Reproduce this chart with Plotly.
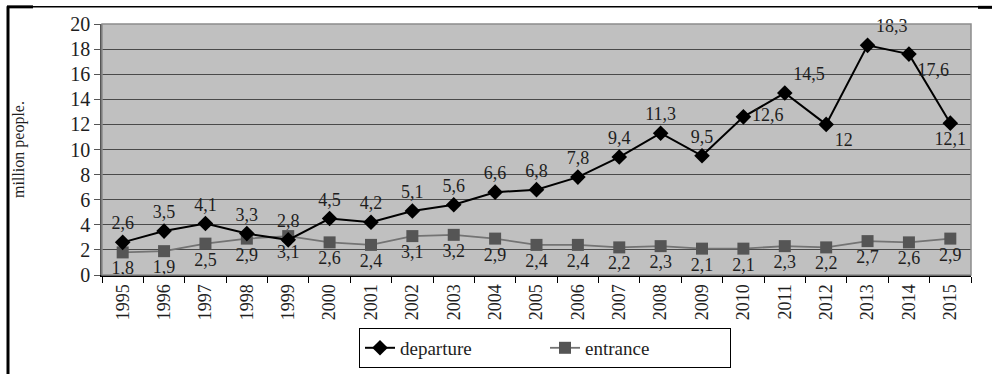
import plotly.graph_objects as go

# Outbound / inbound travellers, million people
years = [str(y) for y in range(1995, 2016)]
departure = [2.6, 3.5, 4.1, 3.3, 2.8, 4.5, 4.2, 5.1, 5.6, 6.6, 6.8, 7.8, 9.4, 11.3, 9.5,
             12.6, 14.5, 12.0, 18.3, 17.6, 12.1]
entrance = [1.8, 1.9, 2.5, 2.9, 3.1, 2.6, 2.4, 3.1, 3.2, 2.9, 2.4, 2.4, 2.2, 2.3, 2.1,
            2.1, 2.3, 2.2, 2.7, 2.6, 2.9]
y_ticks = list(range(0, 21, 2))


def fmt(v):
    # decimal comma, integers without a fraction
    return str(int(v)) if float(v).is_integer() else f"{v:.1f}".replace(".", ",")


W, H = 992, 380
L, R, T, B = 102, 971, 24, 280


def px(p):
    return (p - L) / (R - L)


def py(p):
    return (B - p) / (B - T)


FONT = "'Liberation Serif', 'Times New Roman', 'DejaVu Serif', serif"
INK = "#1e1e1e"

dep_pos = ["top center"] * 14 + ["top center", "middle right", "top right", "bottom right",
                                 "top right", "bottom right", "bottom center"]
ent_pos = ["bottom center"] * 21

fig = go.Figure()
fig.add_trace(go.Scatter(
    x=years, y=entrance, name="entrance", mode="lines+markers+text",
    line=dict(color="#737373", width=1.8),
    marker=dict(symbol="square", size=12, color="#555555", line=dict(width=0)),
    text=[fmt(v) for v in entrance], textposition=ent_pos,
    textfont=dict(family=FONT, size=18, color=INK),
    cliponaxis=False,
))
fig.add_trace(go.Scatter(
    x=years, y=departure, name="departure", mode="lines+markers+text",
    line=dict(color="#000000", width=2),
    marker=dict(symbol="diamond", size=12, color="#000000"),
    text=[fmt(v) for v in departure], textposition=dep_pos,
    textfont=dict(family=FONT, size=18, color=INK),
    cliponaxis=False,
))

shapes = [
    # plot area border
    dict(type="rect", xref="paper", yref="paper", x0=0, x1=1, y0=0, y1=1,
         line=dict(color="#8c8c8c", width=1.5), layer="above"),
    # outer frame
    dict(type="line", xref="paper", yref="paper", x0=px(8), x1=px(8), y0=py(6), y1=py(381),
         line=dict(color="#000000", width=3)),
    dict(type="line", xref="paper", yref="paper", x0=px(8), x1=px(990), y0=py(6.5), y1=py(6.5),
         line=dict(color="#000000", width=1.5)),
    dict(type="line", xref="paper", yref="paper", x0=px(7), x1=px(33), y0=py(6.5), y1=py(6.5),
         line=dict(color="#000000", width=3)),
    dict(type="line", xref="paper", yref="paper", x0=px(978), x1=px(993), y0=py(7), y1=py(7),
         line=dict(color="#000000", width=3)),
]

fig.update_layout(
    width=W, height=H,
    margin=dict(l=L, r=W - R, t=T, b=H - B),
    paper_bgcolor="#ffffff", plot_bgcolor="#c0c0c0",
    font=dict(family=FONT, color=INK),
    showlegend=True,
    legend=dict(
        orientation="h", traceorder="reversed",
        x=px(545), xanchor="center", y=py(334), yanchor="top",
        bgcolor="#ffffff", bordercolor="#000000", borderwidth=1,
        font=dict(family=FONT, size=19, color=INK),
        entrywidth=140,
    ),
    shapes=shapes,
)
fig.update_xaxes(
    type="category", range=[-0.5, len(years) - 0.5],
    tickson="boundaries", ticks="outside", ticklen=6, tickcolor="#000000",
    showline=True, linecolor="#000000", linewidth=2, showgrid=False,
    tickangle=-90, tickfont=dict(family=FONT, size=18, color=INK),
)
fig.update_yaxes(
    range=[0, 20], tickvals=y_ticks, ticks="outside", ticklen=6, tickcolor="#555555",
    showline=True, linecolor="#555555", linewidth=1.5,
    showgrid=True, gridcolor="#4a4a4a", gridwidth=1, zeroline=False,
    tickfont=dict(family=FONT, size=20, color=INK),
    title=dict(text="million people.", font=dict(family=FONT, size=16, color=INK),
               standoff=42),
)

fig.write_html("out.html")
